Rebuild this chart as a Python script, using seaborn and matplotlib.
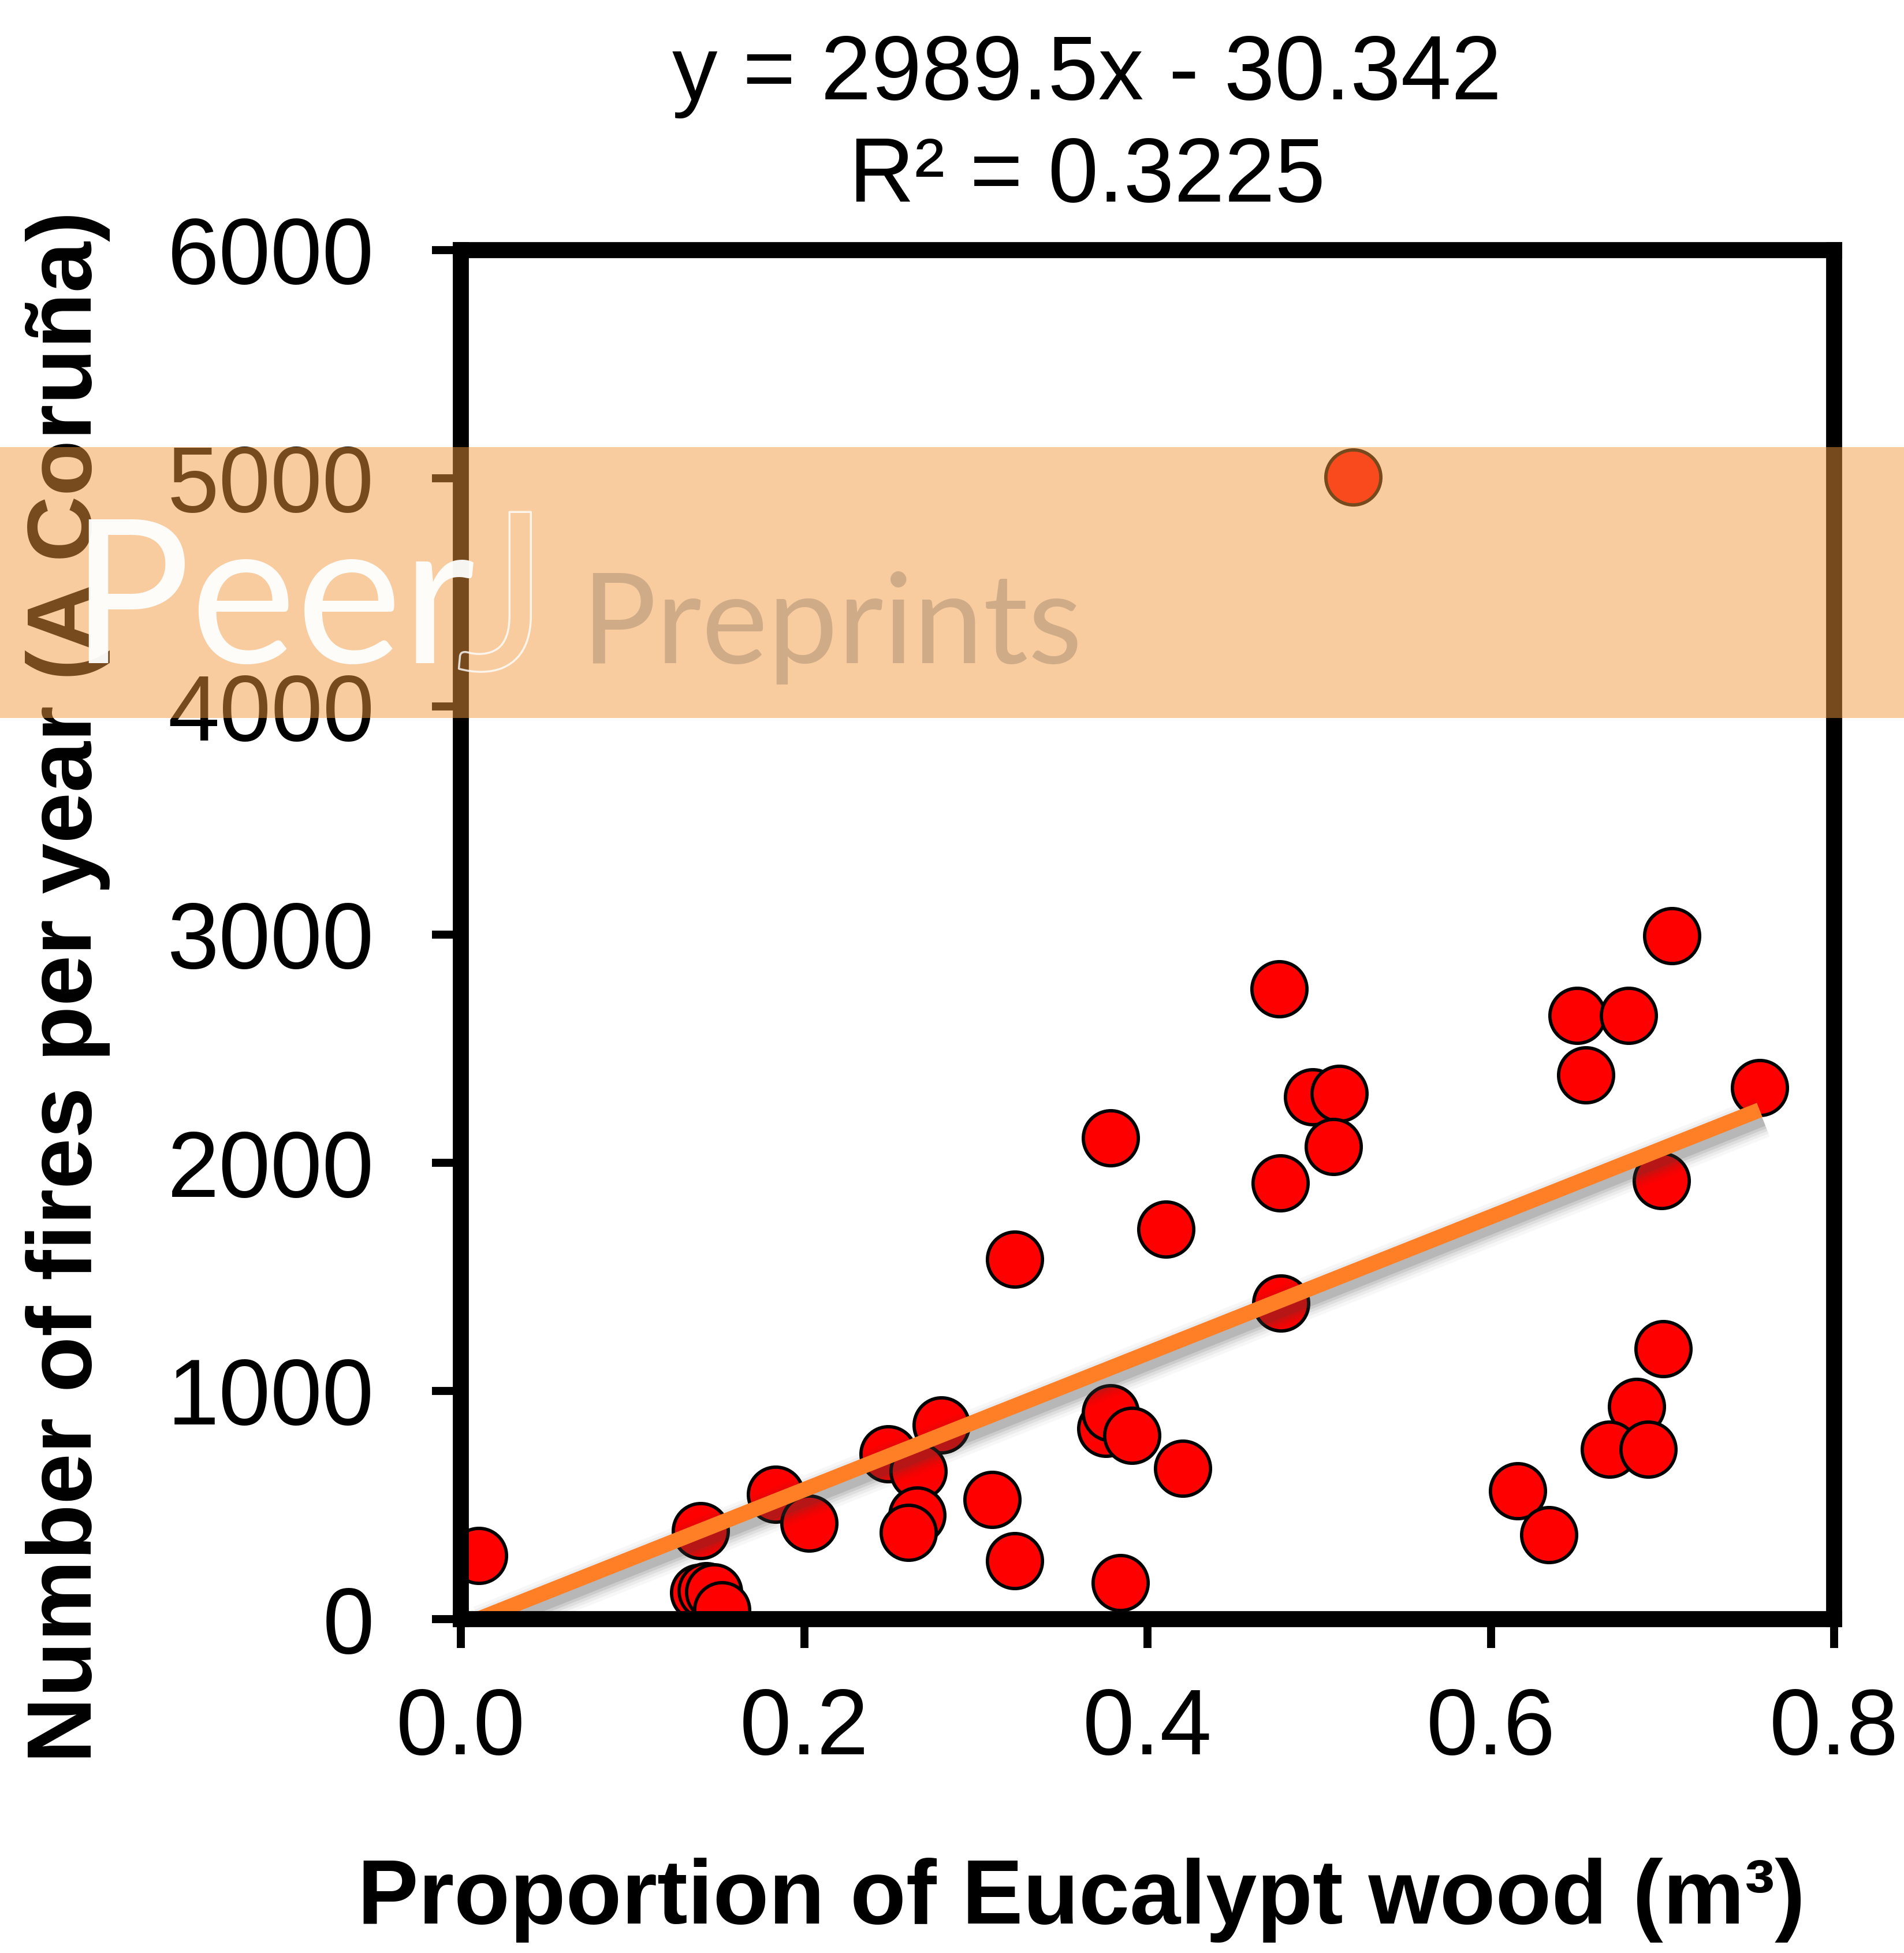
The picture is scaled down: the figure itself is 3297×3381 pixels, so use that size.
import numpy as np
import pandas as pd
import matplotlib
matplotlib.use("Agg")
import matplotlib.pyplot as plt
import matplotlib.patheffects as pe
from matplotlib.patches import Rectangle
from matplotlib.ticker import FormatStrFormatter, FixedLocator
import seaborn as sns

# Proportion of eucalypt wood (m3) per year
eucalypt_share = [
    0.0104, 0.1396, 0.1386, 0.1430, 0.1475, 0.1520, 0.1833, 0.2028,
    0.2490, 0.2800, 0.2664, 0.2657, 0.2607, 0.3095, 0.3226, 0.3226,
    0.3785, 0.3758, 0.3785, 0.3909, 0.4108, 0.4205, 0.3842,
    0.4767, 0.4774, 0.4777, 0.4962, 0.5117, 0.5083, 0.5198,
    0.6157, 0.6338, 0.6503, 0.6802, 0.6553, 0.7055, 0.7566,
    0.6994, 0.7004, 0.6850, 0.6691, 0.6917,
]
# Number of fires per year in A Coruña
fires_per_year = [
    278, 387, 116, 125, 120, 40, 546, 420,
    723, 850, 648, 455, 379, 524, 255, 1576,
    2110, 835, 903, 805, 1710, 660, 159,
    2762, 1912, 1384, 2289, 2304, 2072, 5005,
    562, 369, 2646, 2646, 2385, 2995, 2330,
    1922, 1184, 931, 744, 744,
]

# Linear fit reported on the chart
slope = 2989.5
intercept = -30.342
r_squared = 0.3225

x_ticks = [0.0, 0.2, 0.4, 0.6, 0.8]
y_ticks = [0, 1000, 2000, 3000, 4000, 5000, 6000]

df = pd.DataFrame({"share": eucalypt_share, "fires": fires_per_year})
trend_x = np.array([df["share"].min(), df["share"].max()])
trend = pd.DataFrame({"share": trend_x, "fires": slope * trend_x + intercept})

sns.set_style("white")
plt.rcParams["font.family"] = ["Liberation Sans", "DejaVu Sans"]
for key in ["text.color", "axes.labelcolor", "xtick.color", "ytick.color"]:
    plt.rcParams[key] = "black"

W, H = 3297, 3381
fig = plt.figure(figsize=(W / 100, H / 100), dpi=100)
ax = fig.add_axes([798 / W, 1 - 2803 / H, (3176 - 798) / W, (2803 - 433) / H])

sns.scatterplot(data=df, x="share", y="fires", ax=ax, s=4700,
                color="#FF0000", edgecolor="black", linewidth=4.2,
                zorder=3, legend=False)

# Soft drop shadow under the fitted line, built from stacked strokes
shadow = [pe.SimpleLineShadow(offset=(3, -9), shadow_color="#404040",
                              alpha=a, rho=1.0, linewidth=w)
          for w, a in [(52, 0.04), (44, 0.06), (37, 0.08), (30, 0.11), (23, 0.15)]]
sns.lineplot(data=trend, x="share", y="fires", ax=ax, color="#FF7F27",
             zorder=4)
trend_line = ax.lines[-1]
trend_line.set_linewidth(19)
trend_line.set_solid_capstyle("butt")
trend_line.set_path_effects(shadow + [pe.Normal()])

ax.set_xlim(0, 0.8)
ax.set_ylim(0, 6000)
ax.xaxis.set_major_locator(FixedLocator(x_ticks))
ax.yaxis.set_major_locator(FixedLocator(y_ticks))
ax.xaxis.set_major_formatter(FormatStrFormatter("%.1f"))
ax.set_xlabel("")
ax.set_ylabel("")

for side in ["left", "right", "top", "bottom"]:
    ax.spines[side].set_visible(True)
    ax.spines[side].set_color("black")
    ax.spines[side].set_linewidth(20)
    ax.spines[side].set_zorder(5)

ax.tick_params(axis="both", direction="out", length=36, width=10,
               colors="black", labelsize=116)
ax.tick_params(axis="x", pad=48, bottom=True)
ax.tick_params(axis="y", pad=72, left=True)

# Regression equation above the axes
fig.text(1882 / W, 1 - 172 / H, f"y = {slope}x - {abs(intercept)}",
         ha="center", va="baseline", fontsize=113, color="black")
fig.text(1882 / W, 1 - 349 / H, f"R² = {r_squared}",
         ha="center", va="baseline", fontsize=113, color="black")

fig.text(158 / W, 1 - 1709 / H, "Number of fires per year (A Coruña)",
         rotation=90, rotation_mode="anchor", ha="center", va="baseline",
         fontsize=114, fontweight="bold", color="black")
fig.text(1872 / W, 1 - 3330 / H, "Proportion of Eucalypt wood (m³)",
         ha="center", va="baseline", fontsize=114, fontweight="bold",
         color="black")

# Publisher banner across the upper part of the figure
banner_font = ["Lato", "DejaVu Sans"]
fig.patches.append(Rectangle((0, 1 - 1243 / H), 1, (1243 - 774) / H,
                             transform=fig.transFigure, facecolor="#F3983D",
                             alpha=0.494, edgecolor="none", zorder=10))
fig.text(121 / W, 1 - 1148 / H, "Peer", color="white", alpha=0.95,
         fontsize=250, family=banner_font,
         ha="left", va="baseline", zorder=11)
fig.text(790 / W, 1 - 1160 / H, "J", color="none",
         fontsize=275, family=banner_font,
         ha="left", va="baseline", zorder=11,
         path_effects=[pe.Stroke(linewidth=2.5, foreground=(1, 1, 1, 0.8))])
fig.text(1006 / W, 1 - 1148 / H, "Preprints", color="#CFAB88",
         fontsize=156, family=banner_font,
         ha="left", va="baseline", zorder=11)

fig.savefig("out.png", dpi=100, facecolor="white")
